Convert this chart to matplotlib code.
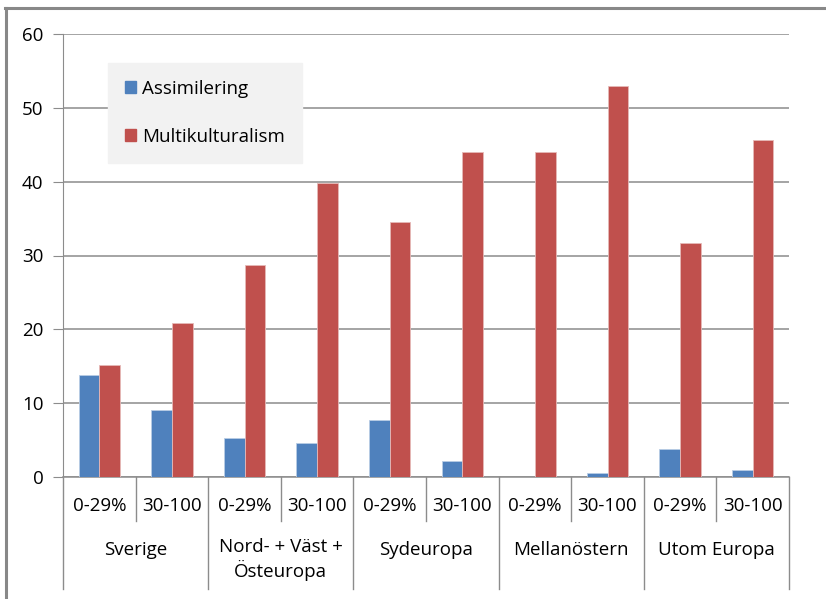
import matplotlib.pyplot as plt
from matplotlib.lines import Line2D
from matplotlib.patches import Patch
from matplotlib.transforms import blended_transform_factory
import numpy as np

plt.rcParams['font.family'] = ['Open Sans', 'DejaVu Sans']

groups = ["Sverige", "Nord- + Väst +\nÖsteuropa", "Sydeuropa", "Mellanöstern", "Utom Europa"]
subcats = ["0-29%", "30-100"]
assimilering = [13.8, 9.1, 5.3, 4.6, 7.7, 2.2, 0.0, 0.5, 3.8, 1.0]
multikultur = [15.2, 20.8, 28.7, 39.8, 34.5, 44.0, 44.0, 53.0, 31.7, 45.7]

blue = "#4f81bd"
red = "#c0504d"
grid_c = "#8c8c8c"
fs = 13.5

W, H = 826, 599
fig = plt.figure(figsize=(W / 100, H / 100), dpi=100)
ax = fig.add_axes([63 / W, 1 - 477 / H, (789 - 63) / W, (477 - 34) / H])

n = len(assimilering)
x = np.arange(n)
w = 0.286
ax.bar(x - w / 2, assimilering, w, color=blue, edgecolor="#b9cde5", linewidth=0.6, zorder=3)
ax.bar(x + w / 2, multikultur, w, color=red, edgecolor="#e6b9b8", linewidth=0.6, zorder=3)

ax.set_xlim(-0.5, n - 0.5)
ax.set_ylim(0, 60)
ax.set_yticks(range(0, 61, 10))
ax.yaxis.grid(True, color=grid_c, linewidth=1.1)
ax.set_axisbelow(True)
ax.set_xticks([])
for s in ["top", "right"]:
    ax.spines[s].set_visible(False)
ax.spines["left"].set_color(grid_c)
ax.spines["bottom"].set_color(grid_c)
ax.spines["bottom"].set_linewidth(1.1)
ax.tick_params(axis="y", length=7, color=grid_c, labelsize=fs, pad=7)

# category axis with two levels
tr = blended_transform_factory(ax.transData, fig.transFigure)
def fy(py):
    return 1 - py / H

for i in range(n):
    ax.text(i, fy(506), subcats[i % 2], transform=tr, ha="center", va="center", fontsize=fs)
for g, name in enumerate(groups):
    if "\n" in name:
        ax.text(2 * g + 0.5, fy(538), name, transform=tr, ha="center", va="top", fontsize=fs, linespacing=1.25)
    else:
        ax.text(2 * g + 0.5, fy(550), name, transform=tr, ha="center", va="center", fontsize=fs)

for b in range(n + 1):
    bottom = 589 if b % 2 == 0 else 521
    ax.add_line(Line2D([b - 0.5, b - 0.5], [fy(477), fy(bottom)], transform=tr, color=grid_c,
                       linewidth=1.0, clip_on=False))

handles = [Patch(color=blue), Patch(color=red)]
leg = ax.legend(handles, ["Assimilering", "Multikulturalism"], loc="upper left",
                bbox_to_anchor=((108 - 63) / (789 - 63), (477 - 63) / (477 - 34)),
                fontsize=fs, frameon=True, fancybox=False, handlelength=0.6, handleheight=0.6,
                handletextpad=0.3, labelspacing=1.6, borderpad=0.9, borderaxespad=0)
leg.get_frame().set_facecolor("#f2f2f2")
leg.get_frame().set_edgecolor("#f2f2f2")
leg.get_frame().set_alpha(1)

# outer frame (top and left edges)
fig.add_artist(Line2D([5 / W, 1], [fy(8), fy(8)], color="#888888", linewidth=2.2))
fig.add_artist(Line2D([6 / W, 6 / W], [fy(8), 0], color="#888888", linewidth=2.2))

fig.savefig("out.png", dpi=100)
